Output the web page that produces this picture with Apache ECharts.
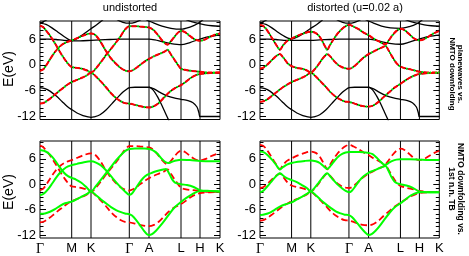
<!DOCTYPE html>
<html><head><meta charset="utf-8">
<script src="https://cdn.jsdelivr.net/npm/echarts@6/dist/echarts.min.js"></script>
<style>html,body{margin:0;padding:0;background:#fff}#c{width:469px;height:256px}</style>
</head><body><div id="c"></div>
<script>
// ---- tick data ----
const kTicks = [0, 31.7, 51, 89.3, 109, 141, 160, 180];
const kLabels = ['Γ', 'M', 'K', 'Γ', 'A', 'L', 'H', 'K'];
const yTicks = [-12, -6, 0, 6];
const yMinorTicks = [-12,-11,-10,-9,-8,-7,-6,-5,-4,-3,-2,-1,0,1,2,3,4,5,6,7,8,9,10];
const yMin = -12.7, yMax = 10.2;

// ---- undistorted: NMTO downfolded bands ----
const nmtoU1 = [[0,9.1],[3,8.8],[6,8.0],[10,6.8],[15,5.0],[20,3.0],[25,1.2],[29,0.0],[31.7,-0.5],[37,-0.7],[42,-0.9],[47,-1.3],[51,-1.8],[56,-0.8],[62,1.0],[67,2.6],[72,4.0],[77,5.5],[81,6.8],[84,7.9],[87,8.7],[89.3,9.0],[95,9.0],[100,8.9],[105,8.8],[109,8.7],[113,8.2],[117,7.2],[121,6.0],[125,5.0],[127.5,4.7],[130,5.2],[134,6.4],[138,7.5],[141,7.9],[145,7.6],[150,6.7],[155,5.9],[160,5.6],[165,5.9],[170,6.5],[175,7.0],[180,7.3]];
const nmtoU2 = [[0,-1.4],[3,-1.1],[6,-0.2],[10,1.3],[15,3.0],[20,4.3],[25,5.1],[31.7,5.7],[38,6.3],[44,6.9],[51,7.3],[55,7.0],[60,5.6],[65,3.6],[70,1.8],[75,0.5],[80,-0.6],[85,-1.3],[89.3,-1.5],[93,-1.2],[98,-0.4],[103,0.5],[109,1.4],[114,2.0],[119,2.5],[124,3.0],[127.5,3.5],[131,2.4],[135,1.0],[138,0.0],[141,-0.9],[146,-1.2],[152,-1.4],[160,-1.6],[170,-1.8],[180,-1.8]];
const nmtoU3 = [[0,-9.0],[4,-8.8],[8,-8.2],[13,-7.3],[18,-6.3],[23,-5.4],[28,-4.5],[31.7,-4.0],[37,-3.5],[42,-3.0],[47,-2.4],[51,-1.8],[56,-2.7],[61,-3.9],[66,-5.2],[71,-6.6],[76,-7.7],[81,-8.5],[85,-8.9],[89.3,-9.0],[95,-9.3],[100,-9.6],[105,-9.85],[109,-9.9],[114,-9.6],[119,-8.8],[124,-7.6],[129,-6.4],[135,-5.4],[141,-4.7],[146,-3.9],[151,-3.0],[156,-2.4],[160,-2.1],[170,-1.9],[180,-1.8]];
// ---- undistorted: 1st n.n. TB bands ----
const tbU1 = [[0,8.1],[4,7.9],[8,7.4],[12,6.5],[16,5.3],[20,3.9],[24,2.7],[28,1.9],[31.7,1.5],[36,1.1],[41,0.4],[46,-0.6],[51,-1.7],[56,-0.4],[61,1.1],[66,2.6],[71,4.1],[76,5.6],[81,6.9],[85,7.8],[89.3,8.3],[95,8.4],[100,8.4],[105,8.4],[109,8.3],[113,8.0],[117,7.3],[121,6.2],[125,5.3],[128,5.0],[132,5.3],[136,5.6],[141,5.8],[150,5.7],[160,5.5],[170,5.4],[180,5.4]];
const tbU2 = [[0,-2.6],[4,-2.2],[8,-1.2],[12,0.1],[16,1.5],[20,2.7],[24,3.6],[28,4.2],[31.7,4.5],[37,4.8],[44,5.2],[51,5.4],[56,5.1],[61,4.4],[66,3.3],[71,1.9],[76,0.5],[81,-0.8],[85,-1.7],[89.3,-2.5],[92,-2.2],[95,-1.2],[99,0.2],[103,1.4],[107,2.2],[112,2.7],[117,3.1],[122,3.4],[126,3.6],[129,2.6],[132,1.2],[135,0.4],[141,0.0],[147,-0.2],[153,-0.6],[160,-1.4],[170,-1.6],[180,-1.7]];
const tbU3 = [[0,-7.0],[5,-6.9],[10,-6.5],[15,-5.9],[20,-5.1],[25,-4.5],[31.7,-4.1],[37,-3.5],[42,-2.9],[47,-2.3],[51,-1.7],[56,-2.6],[61,-3.6],[66,-4.5],[71,-5.4],[76,-6.1],[81,-6.6],[85,-6.9],[89.3,-7.1],[92,-7.4],[96,-8.4],[100,-9.7],[104,-11.0],[107,-11.8],[109,-12.0],[112,-11.8],[116,-11.0],[120,-9.9],[125,-8.4],[130,-6.8],[135,-5.4],[141,-4.2],[146,-3.3],[152,-2.4],[160,-1.6],[170,-1.6],[180,-1.7]];
// ---- undistorted: extra plane-wave bands ----
const pwU1 = [[0,6.0],[8,6.0],[16,5.9],[24,5.7],[31.7,5.6],[40,5.6],[51,5.7],[60,5.8],[70,5.9],[80,6.0],[89.3,6.0],[100,6.0],[109,6.0],[115,5.8],[122,5.4],[130,5.0],[141,4.7],[150,5.2],[160,6.0],[170,6.6],[180,6.9]];
const pwU2 = [[0,9.7],[6,9.4],[12,8.6],[18,7.6],[24,6.6],[28,6.0],[31.7,5.6],[36,6.0],[42,6.9],[51,8.4],[57,9.4],[63,10.5]];
const pwU3 = [[0,9.7],[3,10.0],[7,10.5]];
const pwU4 = [[77,10.5],[83,9.9],[89.3,9.7],[95,9.9],[101,10.5]];
const pwU5 = [[106,10.5],[114,9.7],[122,9.0],[131,8.5],[141,8.3],[150,8.8],[157,9.5],[163,10.5]];
const pwU6 = [[146,10.5],[155,9.8],[165,9.3],[172,9.1],[180,9.0]];
const pwU7 = [[0,-5.3],[5,-5.5],[10,-6.1],[16,-7.2],[22,-8.5],[27,-9.6],[31.7,-10.4],[37,-11.2],[43,-11.8],[48,-12.1],[51,-12.2],[54,-12.1],[60,-11.6],[66,-10.5],[72,-9.0],[78,-7.5],[83,-6.3],[87,-5.6],[89.3,-5.3]];
const pwU8 = [[89.3,-5.3],[95,-5.2],[103,-5.2],[109,-5.2],[113,-5.8],[117,-7.2],[121,-9.0],[125,-11.0],[129,-13.0]];
const pwU9 = [[109,-5.2],[114,-5.6],[120,-6.4],[127,-7.2],[134,-7.7],[141,-8.0],[148,-8.3],[153,-8.8],[157,-9.8],[159,-11.2],[160,-12.0],[170,-12.0],[180,-12.0]];

// ---- distorted: NMTO downfolded bands ----
const nmtoD1 = [[0,9.3],[3,9.1],[6,8.4],[10,7.0],[14,5.5],[17,4.4],[20,3.5],[23,4.5],[27,5.5],[31.7,6.1],[38,6.8],[45,7.4],[51,7.7],[56,7.4],[60,6.5],[63,5.3],[65.5,4.2],[67.5,3.5],[70,4.5],[74,6.0],[78,7.3],[82,8.3],[86,9.0],[89.3,9.3],[94,8.9],[99,8.3],[104,7.5],[109,6.9],[114,6.1],[119,5.5],[123,5.0],[126,4.8],[129,5.6],[133,6.9],[137,7.9],[141,8.4],[145,8.1],[150,7.1],[155,6.1],[160,5.7],[165,6.0],[170,6.7],[175,7.4],[180,7.9]];
const nmtoD2 = [[0,-0.9],[3,-0.7],[7,0.0],[11,0.9],[15,1.8],[18,2.3],[20,2.5],[22,2.1],[25,1.2],[28,0.3],[31.7,-0.3],[37,-0.7],[42,-0.9],[47,-1.3],[51,-1.8],[55,-1.0],[59,0.2],[63,1.5],[66,2.3],[67.5,2.5],[70,2.1],[74,1.0],[78,0.1],[82,-0.5],[86,-0.8],[89.3,-0.9],[93,-0.6],[98,0.4],[103,1.5],[109,2.5],[114,3.1],[119,3.7],[123,4.1],[126,4.4],[129,3.4],[133,1.8],[137,0.4],[141,-0.4],[146,-0.8],[152,-1.1],[160,-1.6],[170,-1.8],[180,-1.8]];
const nmtoD3 = [[0,-8.6],[4,-8.4],[8,-7.9],[13,-7.0],[18,-6.1],[23,-5.2],[28,-4.5],[31.7,-4.0],[37,-3.5],[42,-3.0],[47,-2.4],[51,-1.8],[56,-2.7],[61,-3.9],[66,-5.1],[71,-6.4],[76,-7.4],[81,-8.1],[85,-8.5],[89.3,-8.6],[95,-9.0],[100,-9.4],[105,-9.65],[109,-9.7],[114,-9.4],[119,-8.6],[124,-7.5],[129,-6.5],[135,-5.3],[141,-4.4],[146,-3.6],[151,-2.9],[156,-2.4],[160,-2.1],[170,-1.9],[180,-1.8]];
// ---- distorted: 1st n.n. TB bands ----
const tbD1 = [[0,7.7],[4,7.5],[8,6.8],[12,5.8],[16,4.6],[20,3.5],[23,4.0],[27,4.6],[31.7,5.0],[38,5.3],[45,5.5],[51,5.6],[56,5.4],[60,5.0],[64,4.2],[67.5,3.6],[71,4.4],[75,5.6],[79,6.6],[83,7.2],[86,7.5],[89.3,7.6],[95,7.6],[100,7.6],[105,7.5],[109,7.4],[113,7.1],[117,6.3],[121,5.3],[124,4.7],[126,4.6],[129,5.0],[133,5.5],[137,5.8],[141,5.9],[150,5.9],[160,5.8],[170,5.7],[180,5.7]];
const tbD2 = [[0,-1.9],[3,-1.6],[7,-0.6],[11,0.5],[15,1.6],[18,2.3],[20,2.6],[22,2.3],[25,1.7],[28,1.3],[31.7,1.0],[37,0.5],[42,-0.2],[47,-0.9],[51,-1.7],[55,-0.8],[59,0.4],[63,1.6],[66,2.4],[67.5,2.6],[70,2.0],[74,0.9],[78,-0.1],[82,-0.9],[86,-1.6],[89.3,-1.9],[92,-1.6],[96,-0.4],[100,0.9],[104,1.9],[109,2.7],[114,3.2],[119,3.7],[123,4.1],[126,4.3],[129,3.2],[132,1.7],[135,0.6],[138,0.2],[141,0.0],[147,-0.3],[153,-0.8],[160,-1.7],[170,-1.9],[180,-1.9]];
const tbD3 = [[0,-7.3],[5,-7.1],[10,-6.7],[15,-6.0],[20,-5.3],[25,-4.8],[31.7,-4.3],[37,-3.6],[42,-3.0],[47,-2.3],[51,-1.7],[56,-2.6],[61,-3.7],[66,-4.7],[71,-5.6],[76,-6.4],[81,-6.9],[85,-7.2],[89.3,-7.3],[92,-7.7],[96,-8.7],[100,-9.9],[104,-11.0],[107,-11.7],[109,-12.0],[112,-11.8],[116,-11.0],[120,-9.9],[125,-8.3],[130,-6.8],[135,-5.5],[141,-4.5],[146,-3.6],[152,-2.6],[160,-1.9],[170,-1.9],[180,-1.9]];
// ---- distorted: extra plane-wave bands ----
const pwD1 = [[0,6.0],[8,6.0],[16,5.9],[24,5.7],[31.7,5.7],[40,5.7],[51,5.7],[60,5.8],[70,5.9],[80,6.0],[89.3,6.0],[100,6.0],[109,6.0],[115,5.8],[122,5.4],[130,5.0],[141,4.8],[150,5.3],[160,6.0],[170,6.6],[180,6.9]];
const pwD2 = [[0,9.7],[6,9.4],[12,8.6],[18,7.6],[24,6.7],[28,6.2],[31.7,6.0],[36,6.3],[42,7.1],[51,8.5],[57,9.4],[63,10.5]];
const pwD3 = [[0,9.7],[3,10.0],[7,10.5]];
const pwD4 = [[77,10.5],[83,9.9],[89.3,9.7],[95,9.9],[101,10.5]];
const pwD5 = [[106,10.5],[114,9.7],[122,9.0],[131,8.6],[141,8.5],[150,8.9],[157,9.5],[163,10.5]];
const pwD6 = [[146,10.5],[155,9.8],[165,9.3],[172,9.1],[180,9.0]];
const pwD7 = [[0,-5.3],[5,-5.5],[10,-6.1],[16,-7.2],[22,-8.5],[27,-9.6],[31.7,-10.4],[37,-11.2],[43,-11.8],[48,-12.1],[51,-12.2],[54,-12.1],[60,-11.6],[66,-10.5],[72,-9.0],[78,-7.5],[83,-6.3],[87,-5.6],[89.3,-5.3]];
const pwD8 = [[89.3,-5.3],[95,-5.2],[103,-5.2],[109,-5.2],[113,-5.8],[117,-7.2],[121,-9.0],[125,-11.0],[129,-13.0]];
const pwD9 = [[109,-5.2],[114,-5.6],[120,-6.4],[127,-7.2],[134,-7.7],[141,-8.0],[148,-8.3],[153,-8.8],[157,-9.8],[159,-11.2],[160,-12.0],[170,-12.0],[180,-12.0]];

// ---- build chart ----
const chart = echarts.init(document.getElementById('c'), null, {renderer: 'canvas'});
const FONT = 'Liberation Sans, Arial, Helvetica, sans-serif';
const grids = [
  {left: 40, top: 21, width: 180, height: 98.5},
  {left: 260, top: 21, width: 179.3, height: 98.5},
  {left: 40, top: 141, width: 180, height: 98.5},
  {left: 260, top: 141, width: 179.3, height: 98.5}
];
const xAxes = [], yAxes = [], series = [];
grids.forEach((g, gi) => {
  g.show = true; g.borderColor = '#000'; g.borderWidth = 1; g.backgroundColor = 'transparent';
  const bottom = gi >= 2;
  xAxes.push({
    gridIndex: gi, type: 'value', min: 0, max: 180,
    axisLine: {show: false}, axisTick: {show: false}, splitLine: {show: false},
    axisLabel: bottom ? {
      show: true, customValues: kTicks, margin: 4, showMinLabel: true, showMaxLabel: true,
      color: '#000', fontSize: 13, fontFamily: FONT,
      formatter: v => {
        let i = kTicks.findIndex(t => Math.abs(t - v) < 0.01);
        const s = i >= 0 ? kLabels[i] : '';
        return s === 'Γ' ? '{g|Γ}' : s;
      },
      rich: {g: {fontFamily: 'Liberation Serif, DejaVu Serif, serif', fontSize: 14, color: '#000'}}
    } : {show: false}
  });
  const mk = (pos, vals, len, label) => ({
    gridIndex: gi, type: 'value', min: yMin, max: yMax, position: pos,
    axisLine: {show: false}, splitLine: {show: false},
    axisTick: {show: true, inside: true, length: len, customValues: vals, lineStyle: {color: '#000', width: 1}},
    axisLabel: label ? {show: true, customValues: yTicks, color: '#000', fontSize: 13, fontFamily: FONT, margin: 4,
      showMinLabel: true, showMaxLabel: true} : {show: false}
  });
  yAxes.push(mk('left', yTicks, 6, true));
  yAxes.push(mk('left', yMinorTicks, 3.5, false));
  yAxes.push(mk('right', yTicks, 6, false));
  yAxes.push(mk('right', yMinorTicks, 3.5, false));
});

function addLine(gi, data, ls, z, smooth) {
  series.push({
    type: 'line', xAxisIndex: gi, yAxisIndex: gi * 4, data: data,
    symbol: 'none', showSymbol: false, smooth: smooth === undefined ? 0.3 : smooth,
    lineStyle: ls, z: z, silent: true, animation: false, clip: true
  });
}
// vertical high-symmetry lines
for (let gi = 0; gi < 4; gi++) {
  kTicks.slice(1, -1).forEach(k => addLine(gi, [[k, yMin], [k, yMax]], {color: '#000', width: 1}, 1, false));
}
const pwBlack = {color: '#000', width: 1.3};
const redTop = {color: '#ff0000', width: 2, type: [5, 3]};
const greenTop = {color: '#00ff00', width: 2, type: [1.5, 6.5], dashOffset: 2.25};
const redBot = {color: '#ff0000', width: 1.8, type: [6.5, 3.5]};
const greenBot = {color: '#00ff00', width: 2};

const sets = [
  {pw: [pwU1, pwU2, pwU3, pwU4, pwU5, pwU6, pwU7, pwU8, pwU9], nm: [nmtoU1, nmtoU2, nmtoU3], tb: [tbU1, tbU2, tbU3]},
  {pw: [pwD1, pwD2, pwD3, pwD4, pwD5, pwD6, pwD7, pwD8, pwD9], nm: [nmtoD1, nmtoD2, nmtoD3], tb: [tbD1, tbD2, tbD3]}
];
sets.forEach((s, si) => {
  const gTop = si, gBot = si + 2;
  s.pw.forEach(d => addLine(gTop, d, pwBlack, 2));
  s.nm.forEach(d => addLine(gTop, d, pwBlack, 2));
  s.nm.forEach(d => addLine(gTop, d, redTop, 3));
  s.nm.forEach(d => addLine(gTop, d, greenTop, 4));
  s.nm.forEach(d => addLine(gBot, d, redBot, 3));
  s.tb.forEach(d => addLine(gBot, d, greenBot, 4));
});

const txt = (x, y, text, font, rot, lh) => ({
  type: 'text', x: x, y: y, rotation: rot || 0, silent: true,
  style: {text: text, x: 0, y: 0, fill: '#000', font: font, lineHeight: lh,
    textAlign: 'center', textVerticalAlign: 'middle'}
});

chart.setOption({
  animation: false,
  backgroundColor: '#fff',
  grid: grids, xAxis: xAxes, yAxis: yAxes, series: series,
  graphic: [
    txt(130, 8, 'undistorted', '11px ' + FONT),
    txt(355, 8, 'distorted (u=0.02 a)', '11px ' + FONT),
    txt(9, 69, 'E(eV)', '14px ' + FONT, Math.PI / 2),
    txt(9, 192, 'E(eV)', '14px ' + FONT, Math.PI / 2),
    txt(456, 74, 'planewaves vs.\nNMTO downfolding', 'bold 8px ' + FONT, -Math.PI / 2, 8.5),
    txt(456, 189, 'NMTO downfolding vs.\n1st n.n. TB', 'bold 8.5px ' + FONT, -Math.PI / 2, 8.5)
  ]
});
</script>
</body></html>
